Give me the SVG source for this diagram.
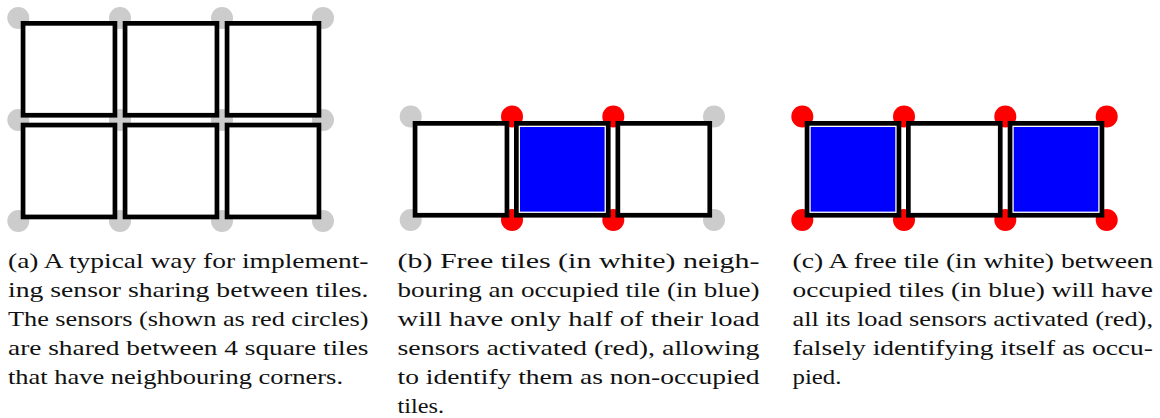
<svg xmlns="http://www.w3.org/2000/svg" width="1160" height="418" viewBox="0 0 1160 418">
<style>
.tile{fill:#ffffff;stroke:#000000;stroke-width:4.7}
.occ{fill:#0000ff}
.off{fill:#cccccc}
.on{fill:#ff0000}
.cap{font-family:'Liberation Serif','DejaVu Serif',serif;font-size:22px;fill:#111111}
</style>
<rect x="0" y="0" width="1160" height="418" fill="#ffffff"/>
<g id="panel-a">
  <g id="a-sensors">
    <circle class="off" cx="18.3" cy="18" r="11"/>
    <circle class="off" cx="120" cy="18" r="11"/>
    <circle class="off" cx="222" cy="18" r="11"/>
    <circle class="off" cx="323" cy="18" r="11"/>
    <circle class="off" cx="18.3" cy="120" r="11"/>
    <circle class="off" cx="120" cy="120" r="11"/>
    <circle class="off" cx="222" cy="120" r="11"/>
    <circle class="off" cx="323" cy="120" r="11"/>
    <circle class="off" cx="18.3" cy="221" r="11"/>
    <circle class="off" cx="120" cy="221" r="11"/>
    <circle class="off" cx="222" cy="221" r="11"/>
    <circle class="off" cx="323" cy="221" r="11"/>
  </g>
  <g id="a-tile-1"><rect class="tile" x="23.05" y="23.35" width="91.9" height="91.9"/></g>
  <g id="a-tile-2"><rect class="tile" x="125.05" y="23.35" width="91.9" height="91.9"/></g>
  <g id="a-tile-3"><rect class="tile" x="227.05" y="23.35" width="91.9" height="91.9"/></g>
  <g id="a-tile-4"><rect class="tile" x="23.05" y="125.05" width="91.9" height="91.9"/></g>
  <g id="a-tile-5"><rect class="tile" x="125.05" y="125.05" width="91.9" height="91.9"/></g>
  <g id="a-tile-6"><rect class="tile" x="227.05" y="125.05" width="91.9" height="91.9"/></g>
</g>
<g id="panel-b">
  <g id="b-sensors">
    <circle class="off" cx="410.7" cy="116.5" r="11"/>
    <circle class="on" cx="512" cy="116.5" r="11"/>
    <circle class="on" cx="613.3" cy="116.5" r="11"/>
    <circle class="off" cx="714" cy="116.5" r="11"/>
    <circle class="off" cx="410.7" cy="220" r="11"/>
    <circle class="on" cx="512" cy="220" r="11"/>
    <circle class="on" cx="613.3" cy="220" r="11"/>
    <circle class="off" cx="714" cy="220" r="11"/>
  </g>
  <g id="b-tile-1"><rect class="tile" x="415.05" y="123.35" width="91.9" height="91.9"/></g>
  <g id="b-tile-2"><rect class="tile" x="516.35" y="123.35" width="91.9" height="91.9"/><rect class="occ" x="520" y="127" width="84.6" height="84.6"/></g>
  <g id="b-tile-3"><rect class="tile" x="617.85" y="123.35" width="91.9" height="91.9"/></g>
</g>
<g id="panel-c">
  <g id="c-sensors">
    <circle class="on" cx="802.3" cy="116.5" r="11"/>
    <circle class="on" cx="904" cy="116.5" r="11"/>
    <circle class="on" cx="1005.3" cy="116.5" r="11"/>
    <circle class="on" cx="1106.7" cy="116.5" r="11"/>
    <circle class="on" cx="802.3" cy="220" r="11"/>
    <circle class="on" cx="904" cy="220" r="11"/>
    <circle class="on" cx="1005.3" cy="220" r="11"/>
    <circle class="on" cx="1106.7" cy="220" r="11"/>
  </g>
  <g id="c-tile-1"><rect class="tile" x="807.05" y="123.35" width="91.9" height="91.9"/><rect class="occ" x="810.7" y="127" width="84.6" height="84.6"/></g>
  <g id="c-tile-2"><rect class="tile" x="908.35" y="123.35" width="91.9" height="91.9"/></g>
  <g id="c-tile-3"><rect class="tile" x="1010.05" y="123.35" width="91.9" height="91.9"/><rect class="occ" x="1013.7" y="127" width="84.6" height="84.6"/></g>
</g>
<g id="caption-a" class="cap">
  <text x="8" y="268.3" textLength="360.5" lengthAdjust="spacingAndGlyphs">(a) A typical way for implement-</text>
  <text x="8" y="297.2" textLength="360.5" lengthAdjust="spacingAndGlyphs">ing sensor sharing between tiles.</text>
  <text x="8" y="326.1" textLength="360.5" lengthAdjust="spacingAndGlyphs">The sensors (shown as red circles)</text>
  <text x="8" y="355" textLength="360.5" lengthAdjust="spacingAndGlyphs">are shared between 4 square tiles</text>
  <text x="8" y="383.9" textLength="335" lengthAdjust="spacingAndGlyphs">that have neighbouring corners.</text>
</g>
<g id="caption-b" class="cap">
  <text x="397.5" y="268.3" textLength="362" lengthAdjust="spacingAndGlyphs">(b) Free tiles (in white) neigh-</text>
  <text x="397.5" y="297.2" textLength="362" lengthAdjust="spacingAndGlyphs">bouring an occupied tile (in blue)</text>
  <text x="397.5" y="326.1" textLength="362" lengthAdjust="spacingAndGlyphs">will have only half of their load</text>
  <text x="397.5" y="355" textLength="362" lengthAdjust="spacingAndGlyphs">sensors activated (red), allowing</text>
  <text x="397.5" y="383.9" textLength="362" lengthAdjust="spacingAndGlyphs">to identify them as non-occupied</text>
  <text x="397.5" y="412.8" textLength="46.5" lengthAdjust="spacingAndGlyphs">tiles.</text>
</g>
<g id="caption-c" class="cap">
  <text x="792.5" y="268.3" textLength="360.5" lengthAdjust="spacingAndGlyphs">(c) A free tile (in white) between</text>
  <text x="792.5" y="297.2" textLength="360.5" lengthAdjust="spacingAndGlyphs">occupied tiles (in blue) will have</text>
  <text x="792.5" y="326.1" textLength="360.5" lengthAdjust="spacingAndGlyphs">all its load sensors activated (red),</text>
  <text x="792.5" y="355" textLength="360.5" lengthAdjust="spacingAndGlyphs">falsely identifying itself as occu-</text>
  <text x="792.5" y="383.9" textLength="49" lengthAdjust="spacingAndGlyphs">pied.</text>
</g>
</svg>
